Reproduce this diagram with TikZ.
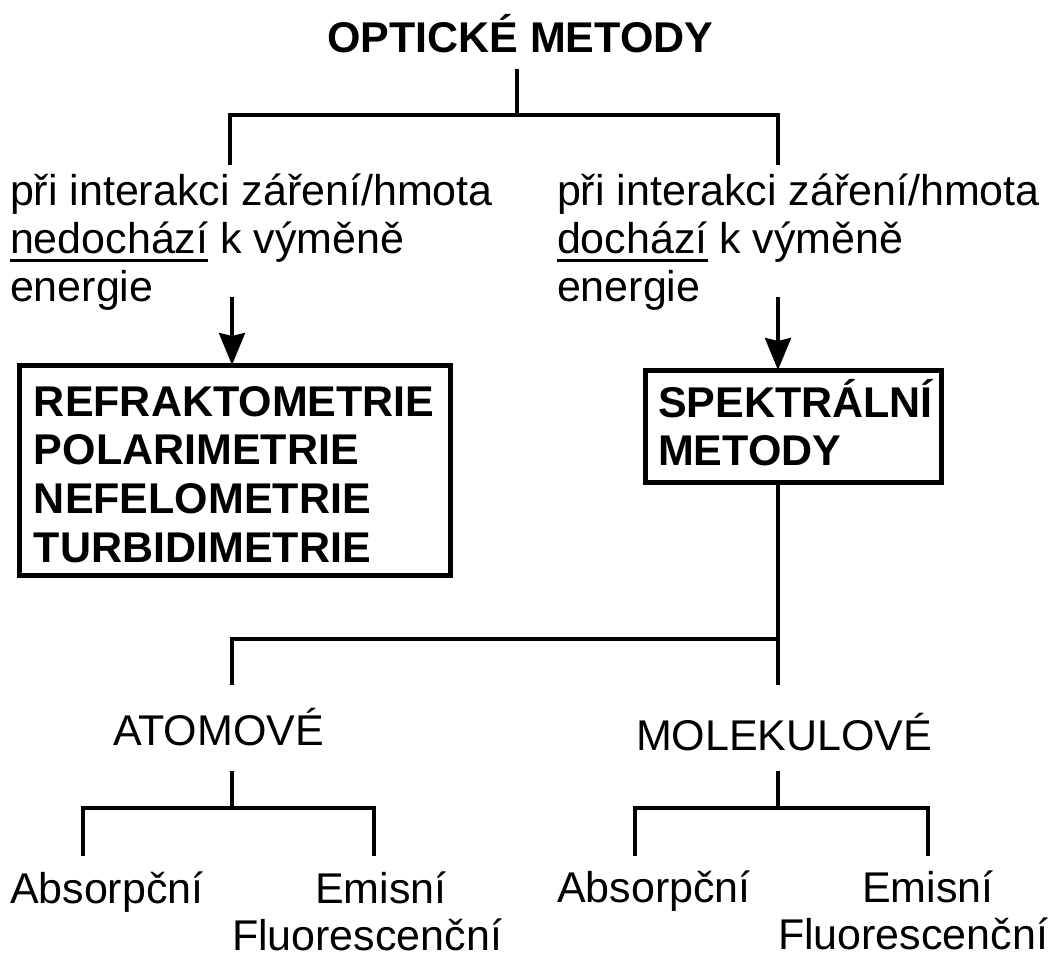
\documentclass[tikz,border=0pt]{standalone}
\usepackage{fontspec}
\setmainfont{Liberation Sans}
\usetikzlibrary{arrows.meta}
\newcommand{\fs}{\fontsize{43}{48}\selectfont}
\newcommand{\myul}[1]{\vtop{\hbox{#1}\kern5.5pt\hrule height 3pt}}
\begin{document}
\begin{tikzpicture}[x=1pt,y=-1pt,
  conn/.style={line width=3.5pt,line join=miter},
  box/.style={draw,line width=5pt,inner sep=0pt,outer sep=0pt,rectangle,anchor=north west},
  txt/.style={inner sep=0pt,outer sep=0pt,anchor=base west,font=\fs},
  btxt/.style={txt,font=\fs\bfseries},
  arr/.style={line width=3.5pt,-{Stealth[length=32pt,width=26pt,inset=3pt]}}]
\useasboundingbox (0,0) rectangle (1053,958);
% title
\node[btxt] (title) at (327,53) {OPTICKÉ METODY};
\coordinate (ttop) at (517,69);
\coordinate (tj) at (517,115);
\coordinate (tl) at (230,115);
\coordinate (tr) at (778,115);
\coordinate (tlb) at (230,165);
\coordinate (trb) at (778,165);
\draw[conn] (ttop) -- (tj);
\draw[conn] (tlb) -- (tl) -- (tr) -- (trb);
% left text
\node[txt] (l1) at (10,205) {při interakci záření/hmota};
\node[txt] (l2) at (10,253) {\myul{nedochází} k výměně};
\node[txt] (l3) at (10,301) {energie};
% right text
\node[txt] (r1) at (557,205) {při interakci záření/hmota};
\node[txt] (r2) at (557,253) {\myul{dochází} k výměně};
\node[txt] (r3) at (557,301) {energie};
% boxes
\node[box,minimum width=431pt,minimum height=210pt] (lbox) at (19,365) {};
\node[box,minimum width=296pt,minimum height=112pt] (rbox) at (645,370) {};
\node[btxt] (b1) at (34,416) {REFRAKTOMETRIE};
\node[btxt] (b2) at (34,464) {POLARIMETRIE};
\node[btxt] (b3) at (34,513) {NEFELOMETRIE};
\node[btxt] (b4) at (34,562) {TURBIDIMETRIE};
\node[btxt] (s1) at (658,417) {SPEKTRÁLNÍ};
\node[btxt] (s2) at (658,465) {METODY};
% arrows
\coordinate (al) at (232,297);
\coordinate (ar) at (778,297);
\draw[arr] (al) -- (lbox.north west -| al);
\draw[arr] (ar) -- (rbox.north west -| ar);
% lower split
\coordinate (mj) at (778,639);
\coordinate (ml) at (232,639);
\coordinate (mlb) at (232,685);
\coordinate (mrb) at (778,685);
\draw[conn] (rbox.south west -| mj) -- (mrb);
\draw[conn] (mlb) -- (ml) -- (mj);
\node[txt] (atom) at (113,745) {ATOMOVÉ};
\node[txt] (mol) at (636,750) {MOLEKULOVÉ};
% atomic tree
\coordinate (at) at (232,771);
\coordinate (aj) at (232,808);
\coordinate (al1) at (83,808);
\coordinate (ar1) at (374,808);
\coordinate (al2) at (83,856);
\coordinate (ar2) at (374,856);
\draw[conn] (at) -- (aj);
\draw[conn] (al2) -- (al1) -- (ar1) -- (ar2);
% molecular tree
\coordinate (mt) at (778,771);
\coordinate (mjj) at (778,808);
\coordinate (ml1) at (635,808);
\coordinate (mr1) at (928,808);
\coordinate (ml2) at (635,856);
\coordinate (mr2) at (928,856);
\draw[conn] (mt) -- (mjj);
\draw[conn] (ml2) -- (ml1) -- (mr1) -- (mr2);
% bottom labels
\node[txt] (aa) at (10,903) {Absorpční};
\node[txt] (ae) at (315,903) {Emisní};
\node[txt] (af) at (232,950) {Fluorescenční};
\node[txt] (ma) at (557,902) {Absorpční};
\node[txt] (me) at (862,902) {Emisní};
\node[txt] (mf) at (778,949) {Fluorescenční};
\end{tikzpicture}
\end{document}
